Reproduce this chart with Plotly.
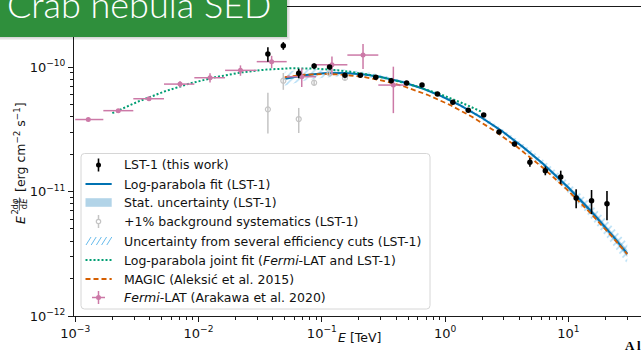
import numpy as np
import plotly.graph_objects as go

TEV_TO_ERG = 1.602176634  # 1 TeV in erg
FLUX_UNIT = 1e-12          # flux arrays below are in units of 1e-12 erg cm^-2 s^-1

# ---------------- LST-1 flux points ----------------
lst_energy = [0.03652, 0.04870, 0.06494, 0.08660, 0.1155, 0.1540, 0.2054, 0.2738,
              0.3652, 0.4870, 0.6494, 0.8660, 1.155, 1.540, 2.054, 2.738, 3.652,
              4.870, 6.494, 8.660, 11.55, 15.40, 20.54]
lst_flux = [127, 148, 88.9, 102, 100, 85.7, 85.7, 82.6, 77.6, 74.3, 71.6, 60.7, 52.0,
            44.9, 41.1, 30.1, 24.1, 17.2, 14.7, 13.1, 8.87, 8.43, 7.98]
lst_flux_err = [17, 10.5, 7.7, 4.7, 3.8, 2.4, 2.4, 2.3, 2.2, 2.1, 2.0, 1.7, 1.5, 1.3,
                1.2, 1.1, 1.1, 1.4, 1.2, 1.6, 1.55, 1.85, 2.1]

# ---------------- LST-1 with +1% background systematics ----------------
bkg_energy = [0.03652, 0.04870, 0.06494, 0.08660, 0.1155, 0.1540]
bkg_flux = [45.7, 77.6, 38.2, 74.8, 89.0, 81.7]
bkg_flux_err = [16.5, 12.0, 8.7, 4.0, 3.0, 3.0]

# ---------------- Fermi-LAT (Arakawa et al. 2020) ----------------
fermi_energy = [1.276e-3, 2.234e-3, 3.963e-3, 7.079e-3, 1.239e-2, 2.188e-2,
                3.917e-2, 6.871e-2, 0.1208, 0.2158, 0.3802]
fermi_e_min = [1.000e-3, 1.690e-3, 2.958e-3, 5.248e-3, 9.247e-3, 1.641e-2,
               2.965e-2, 5.188e-2, 8.974e-2, 0.1611, 0.2871]
fermi_e_max = [1.690e-3, 2.958e-3, 5.248e-3, 9.247e-3, 1.641e-2, 2.965e-2,
               5.188e-2, 8.974e-2, 0.1611, 0.2871, 0.5000]
fermi_flux = [37.85, 44.6, 55.6, 72.9, 82.0, 94.0, 110.4, 83.6, 104.2, 124.7, 71.6]
fermi_flux_err = [0.8, 1.2, 1.5, 4.0, 7.0, 9.0, 12.5, 14.5, 17.0, 28.5, 29.0]

# ---------------- log-parabola models ----------------
# parameters: f0 [TeV^-1 cm^-2 s^-1], E0 [TeV], alpha, beta (natural-log curvature)
lst_fit = [3.05e-10, 0.4, 2.25, 0.114]
lst_fit_range = [0.05, 30.0]
lst_stat_hi = [3.08e-10, 0.4, 2.25, 0.111]
lst_stat_lo = [3.02e-10, 0.4, 2.25, 0.117]
effcut_hi = [3.16e-10, 0.4, 2.2693, 0.1013]
effcut_lo = [2.95e-10, 0.4, 2.2307, 0.1267]
joint_fit = [3.64e-11, 1.0, 2.377, 0.0688]
joint_fit_range = [0.002, 2.0]
magic_fit = [3.23e-11, 1.0, 2.47, 0.24 / np.log(10)]
magic_fit_range = [0.05, 30.0]

BLUE = "#0072B2"
GREEN = "#009E73"
ORANGE = "#D55E00"
PINK = "#CC79A7"
HATCH = "rgba(86,180,233,0.9)"
STAT_FILL = "rgba(0,114,178,0.3)"
GREY = "#c4c4c4"
FONT = "DejaVu Sans"
TXT = "#111111"


def sed(energy, params):
    f0, e0, alpha, beta = params
    x = energy / e0
    dnde = f0 * x ** (-alpha - beta * np.log(x))
    return energy ** 2 * dnde * TEV_TO_ERG


def grid(erange, n=300):
    return np.logspace(np.log10(erange[0]), np.log10(erange[1]), n)


def scale(v):
    return np.asarray(v) * FLUX_UNIT


fig = go.Figure()

# efficiency-cut envelope (hatched)
e_fit = grid(lst_fit_range)
fig.add_trace(go.Scatter(x=e_fit, y=sed(e_fit, effcut_lo), mode="lines",
                         line=dict(width=0), hoverinfo="skip", showlegend=False))
fig.add_trace(go.Scatter(x=e_fit, y=sed(e_fit, effcut_hi), mode="lines",
                         line=dict(width=0), fill="tonexty", fillcolor="rgba(0,0,0,0)",
                         fillpattern=dict(shape="/", fgcolor=HATCH, bgcolor="rgba(0,0,0,0)",
                                          size=5, solidity=0.3),
                         hoverinfo="skip", showlegend=False))
# statistical band
fig.add_trace(go.Scatter(x=e_fit, y=sed(e_fit, lst_stat_lo), mode="lines",
                         line=dict(width=0), hoverinfo="skip", showlegend=False))
fig.add_trace(go.Scatter(x=e_fit, y=sed(e_fit, lst_stat_hi), mode="lines",
                         line=dict(width=0), fill="tonexty", fillcolor=STAT_FILL,
                         hoverinfo="skip", showlegend=False))
# LST-1 log-parabola fit
fig.add_trace(go.Scatter(x=e_fit, y=sed(e_fit, lst_fit), mode="lines",
                         line=dict(color=BLUE, width=2), showlegend=False))
# joint fit
e_joint = grid(joint_fit_range)
fig.add_trace(go.Scatter(x=e_joint, y=sed(e_joint, joint_fit), mode="lines",
                         line=dict(color=GREEN, width=2, dash="2px,2px"), showlegend=False))
# MAGIC
e_magic = grid(magic_fit_range)
fig.add_trace(go.Scatter(x=e_magic, y=sed(e_magic, magic_fit), mode="lines",
                         line=dict(color=ORANGE, width=1.8, dash="5px,3px"), showlegend=False))

# +1% background systematics
fig.add_trace(go.Scatter(
    x=bkg_energy, y=scale(bkg_flux), mode="markers",
    marker=dict(symbol="circle-open", color=GREY, size=5, line=dict(width=1.2, color=GREY)),
    error_y=dict(type="data", array=scale(bkg_flux_err), color=GREY, thickness=1.5, width=0),
    showlegend=False))

# Fermi-LAT
fe = np.asarray(fermi_energy)
fig.add_trace(go.Scatter(
    x=fermi_energy, y=scale(fermi_flux), mode="markers",
    marker=dict(color=PINK, size=5),
    error_y=dict(type="data", array=scale(fermi_flux_err), color=PINK, thickness=1.5, width=0),
    error_x=dict(type="data", array=np.asarray(fermi_e_max) - fe,
                 arrayminus=fe - np.asarray(fermi_e_min), color=PINK, thickness=1.5, width=0),
    showlegend=False))

# LST-1 points
fig.add_trace(go.Scatter(
    x=lst_energy, y=scale(lst_flux), mode="markers",
    marker=dict(color="black", size=5.5),
    error_y=dict(type="data", array=scale(lst_flux_err), color="black", thickness=1.6, width=0),
    showlegend=False))

# ---------------- layout geometry ----------------
W, H = 641, 351
ML, MR, MT, MB = 74, 0, 7, 35
PW, PH = W - ML - MR, H - MT - MB
X_DECADE, Y_DECADE = 123.3, 124.5   # pixels per decade


def px(x):
    return (x - ML) / PW


def py(y):
    return (H - MB - y) / PH


x_major = [1e-3, 1e-2, 1e-1, 1e0, 1e1]
x_major_text = ["10<sup>−3</sup>", "10<sup>−2</sup>", "10<sup>−1</sup>", "10<sup>0</sup>", "10<sup>1</sup>"]
y_major = [1e-12, 1e-11, 1e-10]
y_major_text = ["10<sup>−12</sup>", "10<sup>−11</sup>", "10<sup>−10</sup>"]
x_minor = [m * 10.0 ** d for d in range(-3, 2) for m in range(2, 10)]
y_minor = [m * 10.0 ** d for d in range(-12, -9) for m in range(2, 10)]

axis_common = dict(type="log", showgrid=False, zeroline=False, showline=True,
                   linecolor="#1a1a1a", linewidth=1, ticks="outside", ticklen=5,
                   tickwidth=1, tickcolor="#1a1a1a",
                   tickfont=dict(family=FONT, size=13, color=TXT))

x_lo = -3.01
fig.update_xaxes(range=[x_lo, x_lo + PW / X_DECADE], tickvals=x_major,
                 ticktext=x_major_text, mirror=True,
                 minor=dict(tickvals=x_minor, ticks="outside", ticklen=3, tickwidth=0.8,
                            tickcolor="#1a1a1a"),
                 **axis_common)
fig.update_yaxes(range=[-12, -12 + PH / Y_DECADE], tickvals=y_major, ticktext=y_major_text,
                 minor=dict(tickvals=y_minor, ticks="outside", ticklen=3, tickwidth=0.8,
                            tickcolor="#1a1a1a"),
                 **axis_common)

shapes = []
annotations = []


def label(x, y, text, size=12.5, angle=0, xa="center", ya="middle", **font):
    annotations.append(dict(x=px(x), y=py(y), xref="paper", yref="paper", showarrow=False,
                            text=text, textangle=angle, xanchor=xa, yanchor=ya,
                            font=dict(family=FONT, size=size, color=TXT, **font)))


# x-axis title
label(359, 337.5, "<i>E</i> [TeV]")

# y-axis title, written bottom-to-top with a small stacked fraction
label(20, 220, "<i>E</i>", angle=-90)
label(15, 212.5, "2", size=8.5, angle=-90)
label(14.6, 204, "d<i>φ</i>", size=8.5, angle=-90)
label(24.2, 204, "d<i>E</i>", size=8.5, angle=-90)
shapes.append(dict(type="line", xref="paper", yref="paper", x0=px(19.4), x1=px(19.4),
                   y0=py(197.5), y1=py(210.5), line=dict(color=TXT, width=0.7), layer="above"))
label(20, 194, "[erg cm<sup>−2</sup> s<sup>−1</sup>]", angle=-90, ya="bottom")

# ---------------- legend ----------------
LEG_X0, LEG_X1, LEG_Y0, LEG_Y1, R = 81, 430, 153.5, 309, 3.5
legend_frame = (
    f"M {px(LEG_X0 + R)},{py(LEG_Y0)} L {px(LEG_X1 - R)},{py(LEG_Y0)} "
    f"Q {px(LEG_X1)},{py(LEG_Y0)} {px(LEG_X1)},{py(LEG_Y0 + R)} "
    f"L {px(LEG_X1)},{py(LEG_Y1 - R)} Q {px(LEG_X1)},{py(LEG_Y1)} {px(LEG_X1 - R)},{py(LEG_Y1)} "
    f"L {px(LEG_X0 + R)},{py(LEG_Y1)} Q {px(LEG_X0)},{py(LEG_Y1)} {px(LEG_X0)},{py(LEG_Y1 - R)} "
    f"L {px(LEG_X0)},{py(LEG_Y0 + R)} Q {px(LEG_X0)},{py(LEG_Y0)} {px(LEG_X0 + R)},{py(LEG_Y0)} Z"
)
shapes.append(dict(type="path", xref="paper", yref="paper", path=legend_frame,
                   fillcolor="rgba(255,255,255,0.85)", line=dict(color="#d6d6d6", width=1),
                   layer="above"))
rows = [165, 184, 202.5, 221.5, 241, 260, 279, 297.5]
labels = ["LST-1 (this work)",
          "Log-parabola fit (LST-1)",
          "Stat. uncertainty (LST-1)",
          "+1% background systematics (LST-1)",
          "Uncertainty from several efficiency cuts (LST-1)",
          "Log-parabola joint fit (<i>Fermi</i>-LAT and LST-1)",
          "MAGIC (Aleksić et al. 2015)",
          "<i>Fermi</i>-LAT (Arakawa et al. 2020)"]
for yy, lab in zip(rows, labels):
    label(121.5, yy, lab, xa="left")

GX0, GX1, GXC = 85.5, 111.7, 98.5


def hline(y, color, width, dash=None, x0=GX0, x1=GX1):
    shapes.append(dict(type="line", xref="paper", yref="paper", x0=px(x0), x1=px(x1),
                       y0=py(y), y1=py(y), line=dict(color=color, width=width, dash=dash),
                       layer="above"))


def vline(x, y0, y1, color, width):
    shapes.append(dict(type="line", xref="paper", yref="paper", x0=px(x), x1=px(x),
                       y0=py(y0), y1=py(y1), line=dict(color=color, width=width), layer="above"))


def dot(x, y, r, fill, edge, width=0):
    shapes.append(dict(type="circle", xref="paper", yref="paper", x0=px(x - r), x1=px(x + r),
                       y0=py(y + r), y1=py(y - r), fillcolor=fill,
                       line=dict(color=edge, width=width), layer="above"))


# LST-1 points
vline(GXC, rows[0] - 6.5, rows[0] + 6.5, "black", 1.6)
dot(GXC, rows[0], 2.5, "black", "black")
# fit line
hline(rows[1], BLUE, 2)
# stat band
shapes.append(dict(type="rect", xref="paper", yref="paper", x0=px(GX0), x1=px(GX1),
                   y0=py(rows[2] + 4.3), y1=py(rows[2] - 4.3), fillcolor=STAT_FILL,
                   line=dict(width=0), layer="above"))
# background systematics
vline(GXC, rows[3] - 6.5, rows[3] + 6.5, GREY, 1.5)
dot(GXC, rows[3], 2.2, "white", GREY, 1.2)
# hatch glyph
for hx in [86, 91.2, 96.4, 101.6, 106.8]:
    shapes.append(dict(type="line", xref="paper", yref="paper", x0=px(hx), x1=px(hx + 5),
                       y0=py(rows[4] + 4), y1=py(rows[4] - 4),
                       line=dict(color=HATCH, width=1), layer="above"))
# joint fit
hline(rows[5], GREEN, 2, "2px,2px")
# MAGIC
hline(rows[6], ORANGE, 1.8, "5px,3px")
# Fermi
hline(rows[7], PINK, 1.5, x0=GXC - 6.5, x1=GXC + 6.5)
vline(GXC, rows[7] - 6.5, rows[7] + 6.5, PINK, 1.5)
dot(GXC, rows[7], 2.5, PINK, PINK)

# ---------------- banner ----------------
shapes.append(dict(type="rect", xref="paper", yref="paper", x0=px(-2), x1=px(290),
                   y0=py(40), y1=py(-2), fillcolor="rgba(0,0,0,0.06)", line=dict(width=0),
                   layer="above"))
shapes.append(dict(type="rect", xref="paper", yref="paper", x0=px(-2), x1=px(288.5),
                   y0=py(38.5), y1=py(-2), fillcolor="rgba(0,0,0,0.10)", line=dict(width=0),
                   layer="above"))
shapes.append(dict(type="rect", xref="paper", yref="paper", x0=px(-2), x1=px(287),
                   y0=py(37), y1=py(-2), fillcolor="#2f8f3c", line=dict(width=0),
                   layer="above"))
annotations.append(dict(x=px(5), y=py(28), xref="paper", yref="paper", showarrow=False,
                        text="Crab nebula SED", xanchor="left", yanchor="bottom",
                        font=dict(family="Lato", size=36, color="white", weight=300)))
annotations.append(dict(x=px(623), y=py(355), xref="paper", yref="paper", showarrow=False,
                        text="<b>A l</b>", xanchor="left", yanchor="bottom",
                        font=dict(family="Liberation Serif", size=13, color="black")))

fig.update_layout(width=W, height=H, margin=dict(l=ML, r=MR, t=MT, b=MB),
                  plot_bgcolor="white", paper_bgcolor="white", showlegend=False,
                  shapes=shapes, annotations=annotations)

fig.write_html("out.html")
